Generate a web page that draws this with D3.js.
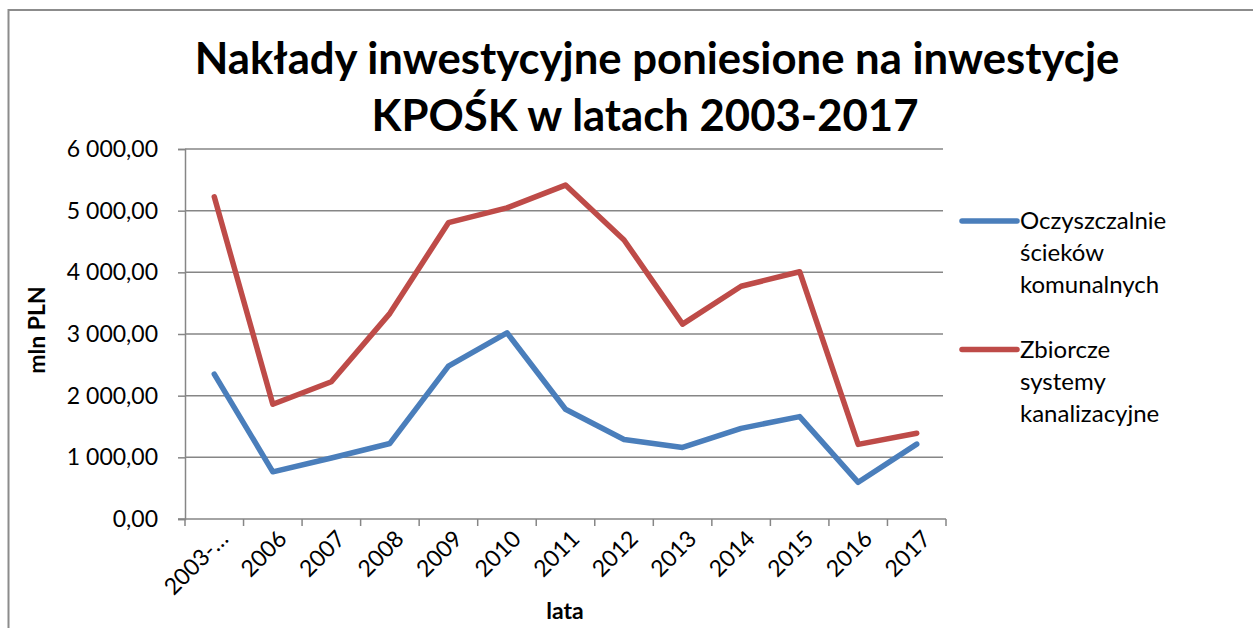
<!DOCTYPE html>
<html>
<head>
<meta charset="utf-8">
<script src="https://cdn.jsdelivr.net/npm/d3@7"></script>
<style>
  body { margin: 0; background: #fff; }
  text { font-family: Lato, "Open Sans", sans-serif; fill: #000; }
</style>
</head>
<body>
<div id="chart"></div>
<script>
// Chart data
var categories = ["2003-…", "2006", "2007", "2008", "2009", "2010", "2011",
                  "2012", "2013", "2014", "2015", "2016", "2017"];
var oczyszczalnie = [2350, 765, 990, 1225, 2480, 3020, 1780, 1290, 1160, 1470, 1660, 595, 1215];
var kanalizacja   = [5225, 1860, 2225, 3335, 4805, 5045, 5415, 4525, 3160, 3775, 4010, 1210, 1390];
var yTicks = [0, 1000, 2000, 3000, 4000, 5000, 6000];
var legendLines = [["Oczyszczalnie", "ścieków", "komunalnych"], ["Zbiorcze", "systemy", "kanalizacyjne"]];
var seriesColors = ["#4a7ebb", "#be4b48"];
var titleLines = ["Nakłady inwestycyjne poniesione na inwestycje", "KPOŚK w latach 2003-2017"];

var width = 1253, height = 628;
var plot = {left: 185, right: 946, top: 149, bottom: 519};

var svg = d3.select("#chart").append("svg")
    .attr("width", width)
    .attr("height", height);

// outer chart frame (runs off the right and bottom of the picture)
svg.append("rect")
    .attr("x", 8.5).attr("y", 10)
    .attr("width", 1400).attr("height", 800)
    .attr("fill", "none")
    .attr("stroke", "#8c8c8c")
    .attr("stroke-width", 2);

var x = d3.scaleBand().domain(categories).range([plot.left, plot.right]);
var y = d3.scaleLinear().domain([0, 6000]).range([plot.bottom, plot.top]);

var pl = d3.formatLocale({decimal: ",", thousands: " ", grouping: [3], currency: ["", " zł"]});
var fmt = pl.format(",.2f");

// gridlines
svg.append("g").selectAll("line")
    .data(yTicks.slice(1))
    .enter().append("line")
    .attr("x1", plot.left).attr("x2", plot.right - 3)
    .attr("y1", d => y(d)).attr("y2", d => y(d))
    .attr("stroke", "#868686")
    .attr("stroke-width", 1.5);

// y axis
var yAxis = svg.append("g")
    .attr("transform", "translate(" + plot.left + ",0)")
    .call(d3.axisLeft(y).tickValues(yTicks).tickFormat(fmt).tickSize(7).tickPadding(20));
yAxis.select(".domain").attr("stroke", "#868686").attr("stroke-width", 1.5);
yAxis.selectAll(".tick line").attr("stroke", "#868686").attr("stroke-width", 1.5);
yAxis.selectAll(".tick text")
    .style("font-size", "23px")
    .style("font-family", "Lato, sans-serif")
    .attr("fill", "#000");

// x axis line with ticks between categories
svg.append("line")
    .attr("x1", plot.left - 7).attr("x2", plot.right)
    .attr("y1", plot.bottom).attr("y2", plot.bottom)
    .attr("stroke", "#868686").attr("stroke-width", 1.5);
var edges = categories.map(c => x(c)).concat([x(categories[categories.length - 1]) + x.bandwidth()]);
svg.append("g").selectAll("line")
    .data(edges)
    .enter().append("line")
    .attr("x1", d => d).attr("x2", d => d)
    .attr("y1", plot.bottom).attr("y2", plot.bottom + 7)
    .attr("stroke", "#868686").attr("stroke-width", 1.5);

// x labels rotated
svg.append("g").selectAll("text")
    .data(categories)
    .enter().append("text")
    .attr("transform", d => "translate(" + (x(d) + x.bandwidth() / 2 + 4) + "," + (plot.bottom + 10) + ") rotate(-45)")
    .attr("text-anchor", "end")
    .attr("dy", "0.7em")
    .style("font-size", "23px")
    .text(d => d);

// axis titles
svg.append("text")
    .attr("transform", "translate(45," + ((plot.top + plot.bottom) / 2 - 4) + ") rotate(-90)")
    .attr("text-anchor", "middle")
    .style("font-size", "23px")
    .style("font-weight", "bold")
    .text("mln PLN");

svg.append("text")
    .attr("x", 565).attr("y", 619)
    .attr("text-anchor", "middle")
    .style("font-size", "23px")
    .style("font-weight", "bold")
    .text("lata");

// lines
var line = d3.line()
    .x((d, i) => x(categories[i]) + x.bandwidth() / 2)
    .y(d => y(d));

[oczyszczalnie, kanalizacja].forEach(function(vals, i) {
  svg.append("path")
      .datum(vals)
      .attr("fill", "none")
      .attr("stroke", seriesColors[i])
      .attr("stroke-width", 5.5)
      .attr("stroke-linejoin", "round")
      .attr("stroke-linecap", "round")
      .attr("d", line);
});

// legend
var legend = svg.append("g").selectAll("g")
    .data(legendLines)
    .enter().append("g")
    .attr("transform", (d, i) => "translate(962," + (221 + i * 128.5) + ")");

legend.append("line")
    .attr("x1", 0).attr("x2", 55)
    .attr("stroke", (d, i) => seriesColors[i])
    .attr("stroke-width", 5.5)
    .attr("stroke-linecap", "round");

legend.append("text")
    .attr("y", 8)
    .style("font-size", "24px")
    .selectAll("tspan")
    .data(d => d)
    .enter().append("tspan")
    .attr("x", 58)
    .attr("dy", (d, j) => j === 0 ? 0 : 32)
    .text(d => d);

// title, sized to fit the reference width
var title = svg.append("g").selectAll("text")
    .data(titleLines)
    .enter().append("text")
    .attr("x", (d, i) => i === 0 ? 657 : 645)
    .attr("y", (d, i) => 74 + i * 57)
    .attr("text-anchor", "middle")
    .style("font-weight", "bold")
    .style("font-size", "40px")
    .text(d => d);
var w0 = title.nodes()[0].getComputedTextLength();
title.style("font-size", (40 * 925 / w0) + "px");
</script>
</body>
</html>
